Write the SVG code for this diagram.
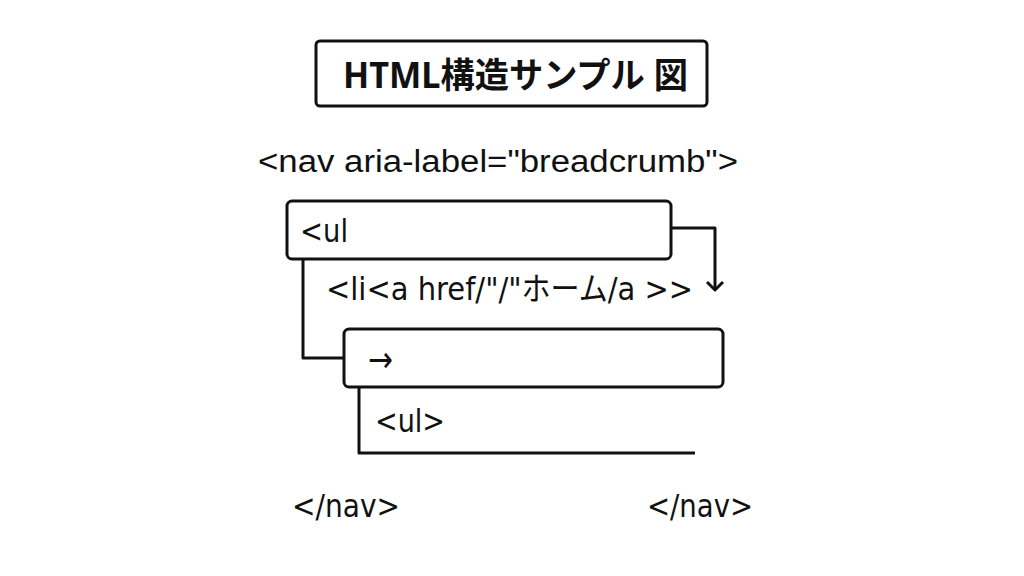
<svg xmlns="http://www.w3.org/2000/svg" width="1024" height="576" viewBox="0 0 1024 576">
<style>
.box{fill:#fff;stroke:#111;stroke-width:3}
.ln{fill:none;stroke:#111;stroke-width:3;stroke-linejoin:round}
.t{font-family:"DejaVu Sans","Noto Sans CJK JP",sans-serif;font-size:32px;fill:#111}
.n{font-family:"Liberation Sans",Arial,sans-serif;font-size:31px;fill:#111}
.h{font-family:"Noto Sans","Noto Sans CJK JP",sans-serif;font-weight:bold;font-size:35px;fill:#111}
</style>
<rect width="1024" height="576" fill="#fff"/>
<g id="title">
<rect class="box" x="316" y="41" width="391" height="65" rx="4"/>
<text class="h" x="343" y="88" textLength="345" lengthAdjust="spacingAndGlyphs">HTML構造サンプル 図</text>
</g>
<g id="nav-open">
<text class="n" x="258" y="172" textLength="480" lengthAdjust="spacingAndGlyphs">&lt;nav aria-label="breadcrumb"&gt;</text>
</g>
<g id="connectors">
<path class="ln" d="M671,228 H715 V290"/>
<path class="ln" d="M707,282 L715,290 L723,282"/>
<path class="ln" d="M303,259 V358 H344"/>
<path class="ln" d="M359,388 V453 H695"/>
</g>
<g id="ul-box">
<rect class="box" x="287" y="201" width="384" height="58" rx="5"/>
<text class="t" x="300" y="242" textLength="48" lengthAdjust="spacingAndGlyphs">&lt;ul</text>
</g>
<g id="li">
<text class="t" x="326" y="300" textLength="367" lengthAdjust="spacingAndGlyphs">&lt;li&lt;a href/"/"ホーム/a &gt;&gt;</text>
</g>
<g id="arrow-box">
<rect class="box" x="344" y="329" width="379" height="58" rx="5"/>
<text class="t" x="368" y="372" textLength="25" lengthAdjust="spacingAndGlyphs" style="font-size:36px">→</text>
</g>
<g id="ul-close">
<text class="t" x="375" y="432" textLength="70" lengthAdjust="spacingAndGlyphs">&lt;ul&gt;</text>
</g>
<g id="nav-close">
<text class="t" x="292" y="517" textLength="108" lengthAdjust="spacingAndGlyphs">&lt;/nav&gt;</text>
<text class="t" x="647" y="517" textLength="106" lengthAdjust="spacingAndGlyphs">&lt;/nav&gt;</text>
</g>
</svg>
